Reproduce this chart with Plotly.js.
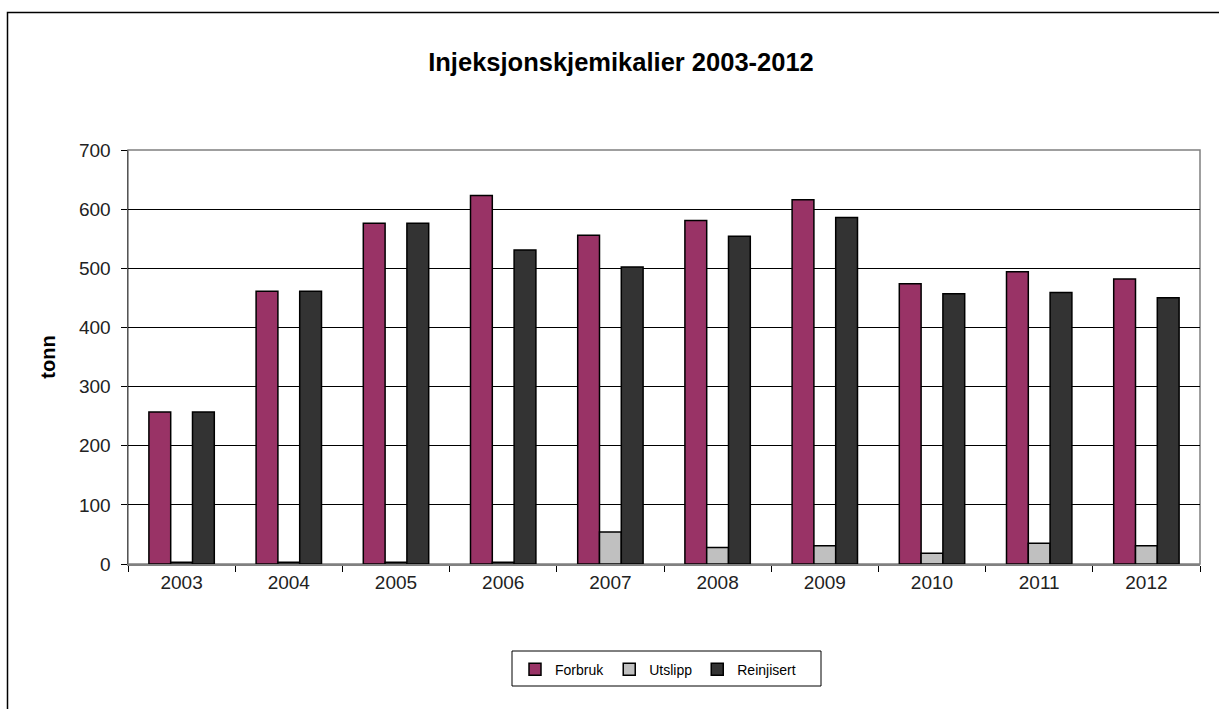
<!DOCTYPE html>
<html>
<head>
<meta charset="utf-8">
<script src="https://cdn.plot.ly/plotly-3.0.1.min.js"></script>
<style>
html,body{margin:0;padding:0;background:#fff;}
#chart{width:1219px;height:709px;}
</style>
</head>
<body>
<div id="chart"></div>
<script>
const years = ["2003","2004","2005","2006","2007","2008","2009","2010","2011","2012"];
const forbruk = [257, 461, 576, 623, 556, 581, 616, 474, 494, 482];
const utslipp = [3, 3, 3, 3, 54, 28, 31, 18, 35, 31];
const reinjisert = [257, 461, 576, 531, 502, 554, 586, 457, 459, 450];
const seriesNames = ["Forbruk", "Utslipp", "Reinjisert"];
const yTicks = [0, 100, 200, 300, 400, 500, 600, 700];

const font = "Liberation Sans, Arial, sans-serif";
const lineStyle = {color: "#000", width: 1.5};

const traces = [
  {type: "bar", name: seriesNames[0], x: years, y: forbruk, marker: {color: "#993366", line: lineStyle}},
  {type: "bar", name: seriesNames[1], x: years, y: utslipp, marker: {color: "#C0C0C0", line: lineStyle}},
  {type: "bar", name: seriesNames[2], x: years, y: reinjisert, marker: {color: "#333333", line: lineStyle}}
];

const layout = {
  width: 1219, height: 709,
  margin: {l: 128, r: 19, t: 150, b: 145},
  paper_bgcolor: "#fff", plot_bgcolor: "#fff",
  font: {family: font, color: "#000"},
  barmode: "group", bargap: 0.39, bargroupgap: 0,
  title: {text: "Injeksjonskjemikalier 2003-2012", font: {family: font, size: 25.5, color: "#000", weight: "bold"},
          x: 621/1219, xanchor: "center", xref: "container", y: 0.913, yanchor: "middle"},
  xaxis: {
    type: "category", tickson: "boundaries", ticks: "outside", ticklen: 6, tickcolor: "#000",
    showline: true, linecolor: "#808080", linewidth: 2, mirror: false,
    tickfont: {family: font, size: 19, color: "#222"}, showgrid: false, fixedrange: true
  },
  yaxis: {
    range: [0, 700], tickvals: yTicks, ticks: "outside", ticklen: 6, tickcolor: "#000",
    showline: true, linecolor: "#555", linewidth: 1.5, ticklabelstandoff: 6,
    showgrid: true, gridcolor: "#000", gridwidth: 1, zeroline: false,
    tickfont: {family: font, size: 19, color: "#222"},
    title: {text: "tonn", font: {family: font, size: 20, color: "#000", weight: "bold"}, standoff: 18}
  },
  showlegend: true,
  legend: {
    orientation: "h", x: 0.5 - 6/1072, xanchor: "center", y: -0.255, yanchor: "middle",
    font: {family: font, size: 14, color: "#000"}, borderwidth: 0, bgcolor: "rgba(0,0,0,0)",
    traceorder: "normal", itemclick: false, itemwidth: 30
  },
  shapes: [
    {type: "rect", xref: "paper", yref: "paper", x0: 0, x1: 1, y0: 0, y1: 1, line: {color: "#808080", width: 1.5}, layer: "below"},
    {type: "rect", xref: "paper", yref: "paper", x0: (512-128)/1072, x1: (821-128)/1072, y0: (564-686)/414, y1: (564-651)/414, line: {color: "#000", width: 1}},
    {type: "rect", xref: "paper", yref: "paper", x0: (7.5-128)/1072, x1: (1240-128)/1072, y0: (564-740)/414, y1: (564-12.5)/414, line: {color: "#000", width: 1.5}}
  ]
};

Plotly.newPlot("chart", traces, layout, {displayModeBar: false, staticPlot: true});
</script>
</body>
</html>
